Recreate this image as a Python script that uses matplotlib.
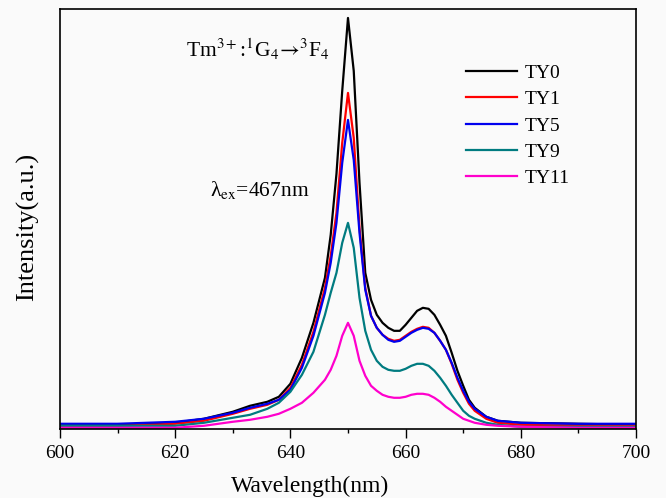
import numpy as np
import matplotlib
matplotlib.use("Agg")
import matplotlib.pyplot as plt
from matplotlib.ticker import MultipleLocator

plt.rcParams['font.family'] = ['Liberation Serif', 'DejaVu Serif']
plt.rcParams['mathtext.fontset'] = 'stix'

# wavelength grid (nm)
wl = [600, 610, 620, 625, 630, 633, 636, 638, 640, 642, 644, 646, 647, 648, 649,
      650, 651, 652, 653, 654, 655, 656, 657, 658, 659, 660, 661, 662, 663, 664,
      665, 666, 667, 668, 669, 670, 671, 672, 674, 676, 680, 690, 700]

ty0 = [3, 3, 5, 9, 16, 22, 26, 31, 44, 70, 105, 150, 193, 254, 337,
       410, 357, 245, 155, 128, 113, 105, 100, 97, 97, 103, 110, 117, 120, 119,
       113, 103, 92, 75, 57, 42, 28, 20, 11, 7, 5, 4, 3]
ty1 = [2, 2, 4, 7, 14, 19, 23, 28, 40, 63, 96, 140, 172, 215, 285,
       335, 290, 200, 140, 112, 100, 93, 89, 87, 88, 92, 96, 99, 101, 100,
       95, 87, 78, 64, 48, 35, 24, 17, 9, 5, 3, 2, 2]
ty5 = [4, 4, 6, 9, 15, 20, 24, 28, 38, 60, 92, 135, 165, 205, 265,
       308, 268, 195, 138, 112, 100, 93, 88, 86, 87, 91, 95, 98, 100, 99,
       95, 87, 78, 65, 50, 37, 26, 19, 11, 7, 5, 4, 4]
ty9 = [2, 2, 2, 5, 10, 13, 19, 25, 36, 53, 76, 113, 135, 155, 185,
       205, 180, 130, 97, 78, 67, 61, 58, 57, 57, 59, 62, 64, 64, 62,
       57, 50, 42, 33, 25, 17, 12, 9, 5, 3, 1, 1, 1]
ty11 = [0, 0, 0, 2, 6, 8, 11, 14, 19, 25, 35, 48, 58, 72, 92,
        105, 92, 67, 52, 42, 37, 33, 31, 30, 30, 31, 33, 34, 34, 33,
        30, 26, 21, 17, 13, 9, 7, 5, 3, 2, 1, 0, 0]

labels = ['TY0', 'TY1', 'TY5', 'TY9', 'TY11']
colors = ['#000000', '#ff0000', '#0000ee', '#007b80', '#ff00cc']
series = [ty0, ty1, ty5, ty9, ty11]

fig = plt.figure(figsize=(6.66, 4.98), dpi=100)
fig.patch.set_facecolor('#fafafa')
ax = fig.add_axes([0.090, 0.139, 0.865, 0.843])
ax.set_facecolor('#fafafa')

for y, c, lab in zip(series, colors, labels):
    ax.plot(wl, y, color=c, lw=1.6, label=lab)

ax.set_xlim(600, 700)
ax.set_ylim(-1, 419)
ax.xaxis.set_major_locator(MultipleLocator(20))
ax.xaxis.set_minor_locator(MultipleLocator(10))
ax.tick_params(axis='x', which='major', length=6.5, width=1, labelsize=14, pad=5)
ax.tick_params(axis='x', which='minor', length=3, width=1)
ax.set_yticks([])
for s in ax.spines.values():
    s.set_linewidth(1.2)

ax.set_xlabel('Wavelength(nm)', fontsize=17)
ax.xaxis.set_label_coords(0.434, -0.112)
ax.set_ylabel('Intensity(a.u.)', fontsize=19)
ax.yaxis.set_label_coords(-0.037, 0.48)

ax.text(0.219, 0.885, r'Tm$^{3+}$:$^{1}$G$_{4}$$\!\rightarrow\!$$^{3}$F$_{4}$',
        transform=ax.transAxes, fontsize=15.5)
ax.text(0.261, 0.555, r'λ$_{\rm ex}$=467nm', transform=ax.transAxes, fontsize=15.5)

ax.legend(loc='upper right', bbox_to_anchor=(0.915, 0.91), frameon=False,
          fontsize=14, handlelength=2.6, labelspacing=0.45, handletextpad=0.4)

fig.savefig('out.png', dpi=100, facecolor=fig.get_facecolor())
